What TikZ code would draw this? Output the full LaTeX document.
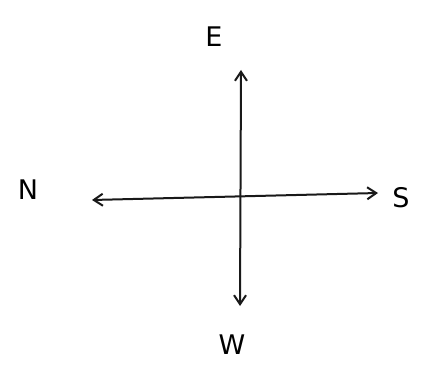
\documentclass[tikz,border=0pt]{standalone}
\usepackage{fontspec}
\setmainfont{DejaVu Sans}
\usetikzlibrary{arrows.meta}
\begin{document}
\begin{tikzpicture}[x=1pt,y=-1pt,
  axis/.style={line width=2pt,draw=black!90,{Straight Barb[length=9pt,width=12pt,line width=2pt]}-{Straight Barb[length=9pt,width=12pt,line width=2pt]}},
  lbl/.style={font=\fontsize{27}{27}\selectfont,inner sep=0pt}]
\fill[white] (0,0) rectangle (422,371);
\useasboundingbox (0,0) rectangle (422,371);
\coordinate (top) at (241,70);
\coordinate (bot) at (240,306);
\coordinate (left) at (92,200);
\coordinate (right) at (378,193);
\draw[axis] (bot) -- (top);
\draw[axis] (left) -- (right);
\node[lbl] (E) at (214,37) {E};
\node[lbl] (N) at (28,190) {N};
\node[lbl] (S) at (401,198) {S};
\node[lbl] (W) at (232,345) {W};
\end{tikzpicture}
\end{document}
